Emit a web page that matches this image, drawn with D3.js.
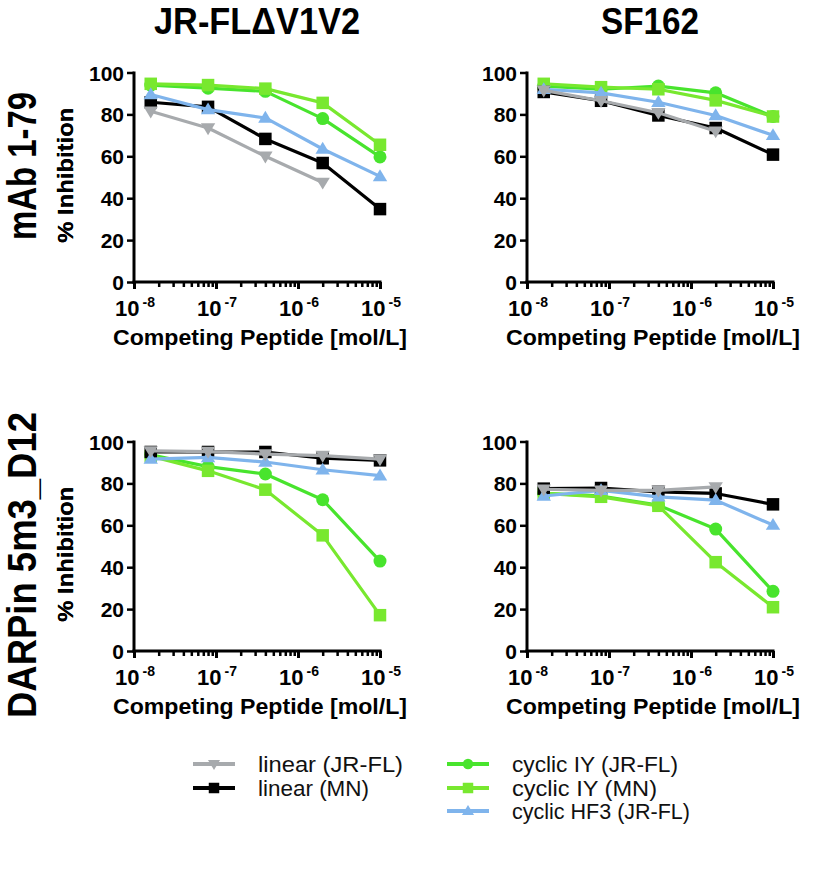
<!DOCTYPE html>
<html>
<head>
<meta charset="utf-8">
<script src="https://cdn.jsdelivr.net/npm/d3@7"></script>
<style>
  html, body { margin: 0; padding: 0; background: #fff; }
  svg { display: block; font-family: "Liberation Sans", Arial, Helvetica, sans-serif; }
</style>
</head>
<body>
<svg id="chart" width="816" height="872"></svg>
<script>
// ---------------- DATA ----------------
const concentrations = [1.6e-8, 8e-8, 4e-7, 2e-6, 1e-5];
const xTickValues = [1e-8, 1e-7, 1e-6, 1e-5];
const xTickExponents = ["-8", "-7", "-6", "-5"];
const yTickValues = [0, 20, 40, 60, 80, 100];

const columnTitles = ["JR-FL\u0394V1V2", "SF162"];
const rowTitles = ["mAb 1-79", "DARPin 5m3_D12"];

const seriesNames = ["linear (JR-FL)", "linear (MN)", "cyclic IY (JR-FL)", "cyclic IY (MN)", "cyclic HF3 (JR-FL)"];

// panel: mAb 1-79 / JR-FLΔV1V2
const mab_jrfl_linearJRFL = [81.5, 73.5, 60.0, 47.5, null];
const mab_jrfl_linearMN   = [85.8, 83.6, 68.3, 56.8, 34.8];
const mab_jrfl_cycIYJRFL  = [94.0, 92.5, 91.0, 78.0, 59.7];
const mab_jrfl_cycIYMN    = [94.6, 94.0, 92.3, 85.5, 65.5];
const mab_jrfl_cycHF3     = [89.5, 82.3, 78.3, 63.5, 50.4];

// panel: mAb 1-79 / SF162
const mab_sf_linearJRFL = [91.5, 86.5, 80.8, 72.0, null];
const mab_sf_linearMN   = [90.7, 86.5, 79.5, 73.5, 60.8];
const mab_sf_cycIYJRFL  = [93.5, 92.0, 93.5, 90.3, 79.0];
const mab_sf_cycIYMN    = [94.6, 93.0, 92.0, 86.7, 79.0];
const mab_sf_cycHF3     = [92.0, 90.3, 85.8, 79.5, 70.0];

// panel: DARPin 5m3_D12 / JR-FLΔV1V2
const darp_jrfl_linearJRFL = [95.5, 95.2, 94.0, 93.3, 91.6];
const darp_jrfl_linearMN   = [95.0, 95.0, 95.0, 92.0, 91.0];
const darp_jrfl_cycIYJRFL  = [93.7, 88.0, 84.5, 72.2, 42.9];
const darp_jrfl_cycIYMN    = [93.0, 86.0, 77.0, 55.2, 17.1];
const darp_jrfl_cycHF3     = [91.6, 92.4, 90.2, 86.5, 83.7];

// panel: DARPin 5m3_D12 / SF162
const darp_sf_linearJRFL = [77.2, 76.7, 76.7, 78.3, null];
const darp_sf_linearMN   = [77.5, 77.8, 76.0, 75.2, 70.0];
const darp_sf_cycIYJRFL  = [75.2, 74.0, 69.6, 58.2, 28.5];
const darp_sf_cycIYMN    = [75.2, 73.6, 69.3, 42.4, 20.9];
const darp_sf_cycHF3     = [74.0, 76.7, 73.6, 72.0, 60.1];

// ---------------- STYLE ----------------
const seriesStyle = [
  { color: "#a7aaad", marker: "triangleDown" },
  { color: "#000000", marker: "square" },
  { color: "#48e42d", marker: "circle" },
  { color: "#78e82f", marker: "square" },
  { color: "#7fb4ec", marker: "triangle" }
];
const drawOrder = [2, 3, 1, 4, 0];

const panels = [
  { row: 0, col: 0, left: 134, top: 72.5, data: [mab_jrfl_linearJRFL, mab_jrfl_linearMN, mab_jrfl_cycIYJRFL, mab_jrfl_cycIYMN, mab_jrfl_cycHF3] },
  { row: 0, col: 1, left: 527, top: 72.5, data: [mab_sf_linearJRFL, mab_sf_linearMN, mab_sf_cycIYJRFL, mab_sf_cycIYMN, mab_sf_cycHF3] },
  { row: 1, col: 0, left: 134, top: 441.5, data: [darp_jrfl_linearJRFL, darp_jrfl_linearMN, darp_jrfl_cycIYJRFL, darp_jrfl_cycIYMN, darp_jrfl_cycHF3] },
  { row: 1, col: 1, left: 527, top: 441.5, data: [darp_sf_linearJRFL, darp_sf_linearMN, darp_sf_cycIYJRFL, darp_sf_cycIYMN, darp_sf_cycHF3] }
];
const plotW = 246, plotH = 209.5;

const svg = d3.select("#chart");

function markerPath(type, size) {
  const s = size;
  switch (type) {
    case "square": return d3.symbol(d3.symbolSquare, s * s)();
    case "circle": return d3.symbol(d3.symbolCircle, Math.PI * (s / 2) * (s / 2))();
    case "triangle": {
      const h = s * 0.95, w = s * 1.15;
      return `M0,${-h * 0.6}L${w / 2},${h * 0.4}L${-w / 2},${h * 0.4}Z`;
    }
    case "triangleDown": {
      const h = s * 0.95, w = s * 1.15;
      return `M0,${h * 0.6}L${w / 2},${-h * 0.4}L${-w / 2},${-h * 0.4}Z`;
    }
  }
}

// Column titles
columnTitles.forEach((t, i) => {
  const cx = panels[i].left + plotW / 2;
  svg.append("text")
    .attr("x", cx).attr("y", 34)
    .attr("text-anchor", "middle")
    .attr("font-size", 37).attr("font-weight", "bold")
    .attr("textLength", i === 0 ? 206 : 98)
    .attr("lengthAdjust", "spacingAndGlyphs")
    .text(t);
});

// Row titles
const rowCenters = [166, 565];
const rowLengths = [148, 306];
rowTitles.forEach((t, i) => {
  svg.append("text")
    .attr("transform", `translate(36,${rowCenters[i]}) rotate(-90)`)
    .attr("text-anchor", "middle")
    .attr("font-size", 40).attr("font-weight", "bold")
    .attr("textLength", rowLengths[i])
    .attr("lengthAdjust", "spacingAndGlyphs")
    .text(t);
});

panels.forEach((p, pi) => {
  const g = svg.append("g").attr("transform", `translate(${p.left},${p.top})`);
  const x = d3.scaleLog().domain([1e-8, 1e-5]).range([0, plotW]);
  const y = d3.scaleLinear().domain([0, 100]).range([plotH, 0]);

  // y-axis
  const yAxis = d3.axisLeft(y).tickValues(yTickValues).tickSize(7).tickPadding(3).tickSizeOuter(0);
  const ya = g.append("g").call(yAxis);
  ya.select(".domain").attr("stroke-width", 3).attr("d", `M0,${plotH + 1.5}V-1`);
  ya.selectAll(".tick line").attr("stroke-width", 2.5);
  ya.selectAll(".tick text")
    .attr("font-size", 21).attr("font-weight", "bold").attr("fill", "#000")
    .attr("dy", "0.36em")
    .attr("font-family", '"Liberation Sans", Arial, sans-serif');

  // x-axis: minor ticks
  const minorTicks = [];
  for (let e = -8; e < -5; e++) for (let m = 2; m <= 9; m++) minorTicks.push(m * Math.pow(10, e));
  const xMinor = d3.axisBottom(x).tickValues(minorTicks).tickSize(5).tickFormat("").tickSizeOuter(0);
  const xm = g.append("g").attr("transform", `translate(0,${plotH})`).call(xMinor);
  xm.select(".domain").remove();
  xm.selectAll(".tick line").attr("stroke-width", 2.5);

  const xAxis = d3.axisBottom(x).tickValues(xTickValues).tickSize(7).tickFormat("").tickSizeOuter(0);
  const xa = g.append("g").attr("transform", `translate(0,${plotH})`).call(xAxis);
  xa.select(".domain").attr("stroke-width", 3).attr("d", `M-1.5,0H${plotW + 1.5}`);
  xa.selectAll(".tick line").attr("stroke-width", 3);

  // x tick labels with superscripts
  xTickValues.forEach((v, i) => {
    const t = g.append("text")
      .attr("x", x(v) + 1).attr("y", plotH + 34)
      .attr("text-anchor", "middle")
      .attr("font-size", 22).attr("font-weight", "bold");
    t.append("tspan").text("10");
    t.append("tspan").attr("font-size", 14).attr("dx", 3).attr("dy", -9).text(xTickExponents[i]);
  });

  // x axis label
  g.append("text")
    .attr("x", plotW / 2 + 3).attr("y", plotH + 63)
    .attr("text-anchor", "middle")
    .attr("font-size", 22).attr("font-weight", "bold")
    .attr("textLength", 294).attr("lengthAdjust", "spacingAndGlyphs")
    .text("Competing Peptide [mol/L]");

  // y axis label
  g.append("text")
    .attr("transform", `translate(${73 - p.left},${plotH / 2 + (p.row === 0 ? -2 : 8)}) rotate(-90)`)
    .attr("text-anchor", "middle")
    .attr("font-size", 22).attr("font-weight", "bold")
    .attr("textLength", 135).attr("lengthAdjust", "spacingAndGlyphs")
    .text("% Inhibition");

  // series
  drawOrder.forEach(si => {
    const vals = p.data[si];
    const pts = concentrations.map((c, k) => ({ c, v: vals[k] })).filter(d => d.v !== null);
    const st = seriesStyle[si];
    g.append("path")
      .datum(pts)
      .attr("fill", "none").attr("stroke", st.color).attr("stroke-width", 3.2)
      .attr("stroke-linejoin", "round")
      .attr("d", d3.line().x(d => x(d.c)).y(d => y(d.v)));
    g.selectAll(null).data(pts).enter().append("path")
      .attr("transform", d => `translate(${x(d.c)},${y(d.v)})`)
      .attr("d", markerPath(st.marker, st.marker === "circle" ? 13 : 12.5))
      .attr("fill", st.color);
  });
});

// Legend
const legendItems = [
  { si: 0, x: 193, y: 764 },
  { si: 1, x: 193, y: 788 },
  { si: 2, x: 447, y: 764 },
  { si: 3, x: 447, y: 788 },
  { si: 4, x: 447, y: 811 }
];
const legendLengths = [145, 111, 166, 145, 178];
const lg = svg.append("g");
legendItems.forEach(it => {
  const st = seriesStyle[it.si];
  lg.append("line")
    .attr("x1", it.x).attr("x2", it.x + 42).attr("y1", it.y).attr("y2", it.y)
    .attr("stroke", st.color).attr("stroke-width", 4);
  lg.append("path")
    .attr("transform", `translate(${it.x + 21},${it.y})`)
    .attr("d", markerPath(st.marker, 10.5))
    .attr("fill", st.color);
  lg.append("text")
    .attr("x", it.x + 65).attr("y", it.y + 8)
    .attr("font-size", 22.5)
    .attr("fill", "#111")
    .attr("textLength", legendLengths[it.si]).attr("lengthAdjust", "spacingAndGlyphs")
    .text(seriesNames[it.si]);
});
</script>
</body>
</html>
